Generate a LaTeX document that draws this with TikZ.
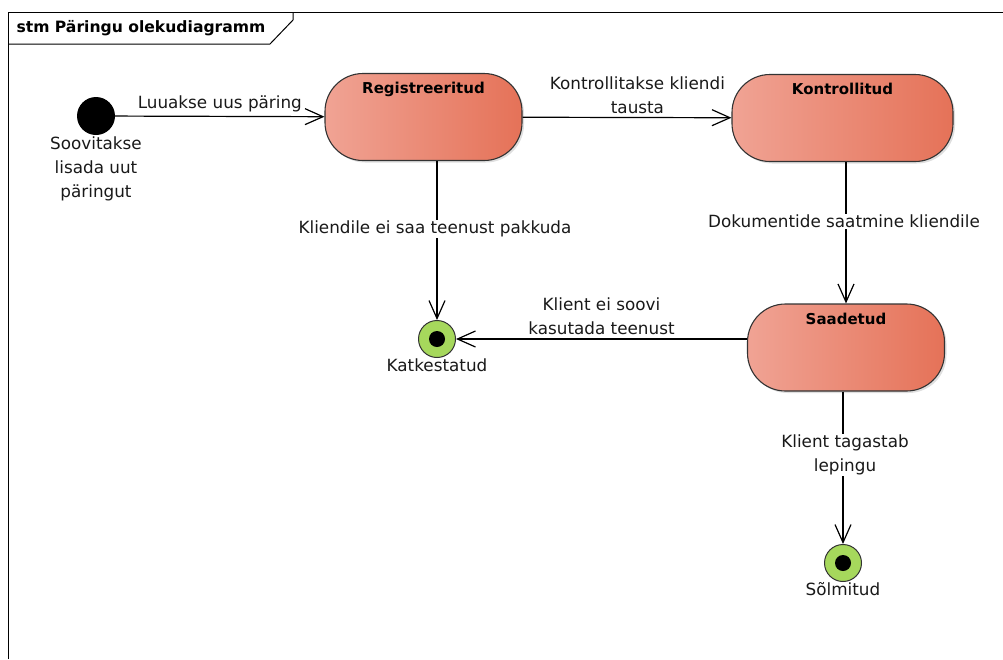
\documentclass[tikz,border=0pt]{standalone}
\usepackage{fontspec}
\setmainfont{DejaVu Sans}
\usetikzlibrary{arrows.meta,shadows}

\definecolor{stateleft}{RGB}{240,163,148}
\definecolor{stateright}{RGB}{229,114,88}
\definecolor{finalgreen}{RGB}{166,216,92}

\begin{document}
\begin{tikzpicture}[x=1pt,y=-1pt,
  statebox/.style={draw=black!80,line width=1.1pt,rounded corners=38pt,
    left color=stateleft,right color=stateright,minimum width=197pt,minimum height=87pt,
    drop shadow={opacity=0.25,shadow xshift=2pt,shadow yshift=-2pt}},
  statename/.style={font=\fontsize{15}{17}\selectfont\bfseries},
  initnode/.style={circle,fill=black,minimum size=38pt,inner sep=0pt},
  finalnode/.style={circle,draw=black!80,line width=1pt,fill=finalgreen,minimum size=37pt,inner sep=0pt},
  finaldot/.style={circle,fill=black,minimum size=16pt,inner sep=0pt},
  translabel/.style={font=\fontsize{16.8}{24}\selectfont,align=center,text=black!90},
  trans/.style={line width=1.2pt,-{Straight Barb[length=18pt,width=16pt,line width=1.2pt]}}]
  \useasboundingbox (0,0) rectangle (1003,659);

  % frame
  \draw[line width=1pt] (8,659) -- (8,12) -- (1003,12);
  \draw[line width=1pt] (8,44) -- (270,44) -- (293,20) -- (293,12);
  \node[anchor=west,font=\fontsize{15.6}{18}\selectfont\bfseries] (title) at (13,28) {stm Päringu olekudiagramm};

  % states
  \node[initnode] (start) at (96,116) {};
  \node[translabel,anchor=north] (startname) at (96,133) {Soovitakse\\lisada uut\\päringut};
  \node[statebox] (reg) at (423.5,117) {};
  \node[statebox,minimum width=221pt] (kon) at (842.5,118) {};
  \node[statebox] (sad) at (846,347.5) {};
  \node[finalnode,label={[translabel,yshift=3pt]below:Katkestatud}] (kat) at (437,339) {};
  \node[finaldot] (katdot) at (kat) {};
  \node[finalnode,label={[translabel,yshift=3pt]below:Sõlmitud}] (sol) at (843,563) {};
  \node[finaldot] (soldot) at (sol) {};
  \node[statename,anchor=north] at ([yshift=-6pt]reg.north) {Registreeritud};
  \node[statename,anchor=north] at ([yshift=-6pt]kon.north) {Kontrollitud};
  \node[statename,anchor=north] at ([yshift=-6pt]sad.north) {Saadetud};

  % transitions
  \draw[trans] (start) -- node[translabel,above=0pt] {Luuakse uus päring} (reg);
  \draw[trans] (reg) -- node[translabel,above=0pt,pos=0.55] {Kontrollitakse kliendi\\tausta} (kon);
  \draw[trans] (kat |- reg.south) -- (kat);
  \node[translabel,fill=white,inner sep=1pt] (lbl1) at (435,229) {Kliendile ei saa teenust pakkuda};
  \draw[trans] (sad |- kon.south) -- (sad);
  \node[translabel,fill=white,inner sep=1pt] (lbl2) at (844,221) {Dokumentide saatmine kliendile};
  \draw[trans] (sad.west |- kat) -- node[translabel,above=0pt] {Klient ei soovi\\kasutada teenust} (kat);
  \draw[trans] (sol |- sad.south) -- (sol);
  \node[translabel,fill=white,inner sep=1pt] (lbl3) at (845,455) {Klient tagastab\\lepingu};
\end{tikzpicture}
\end{document}
